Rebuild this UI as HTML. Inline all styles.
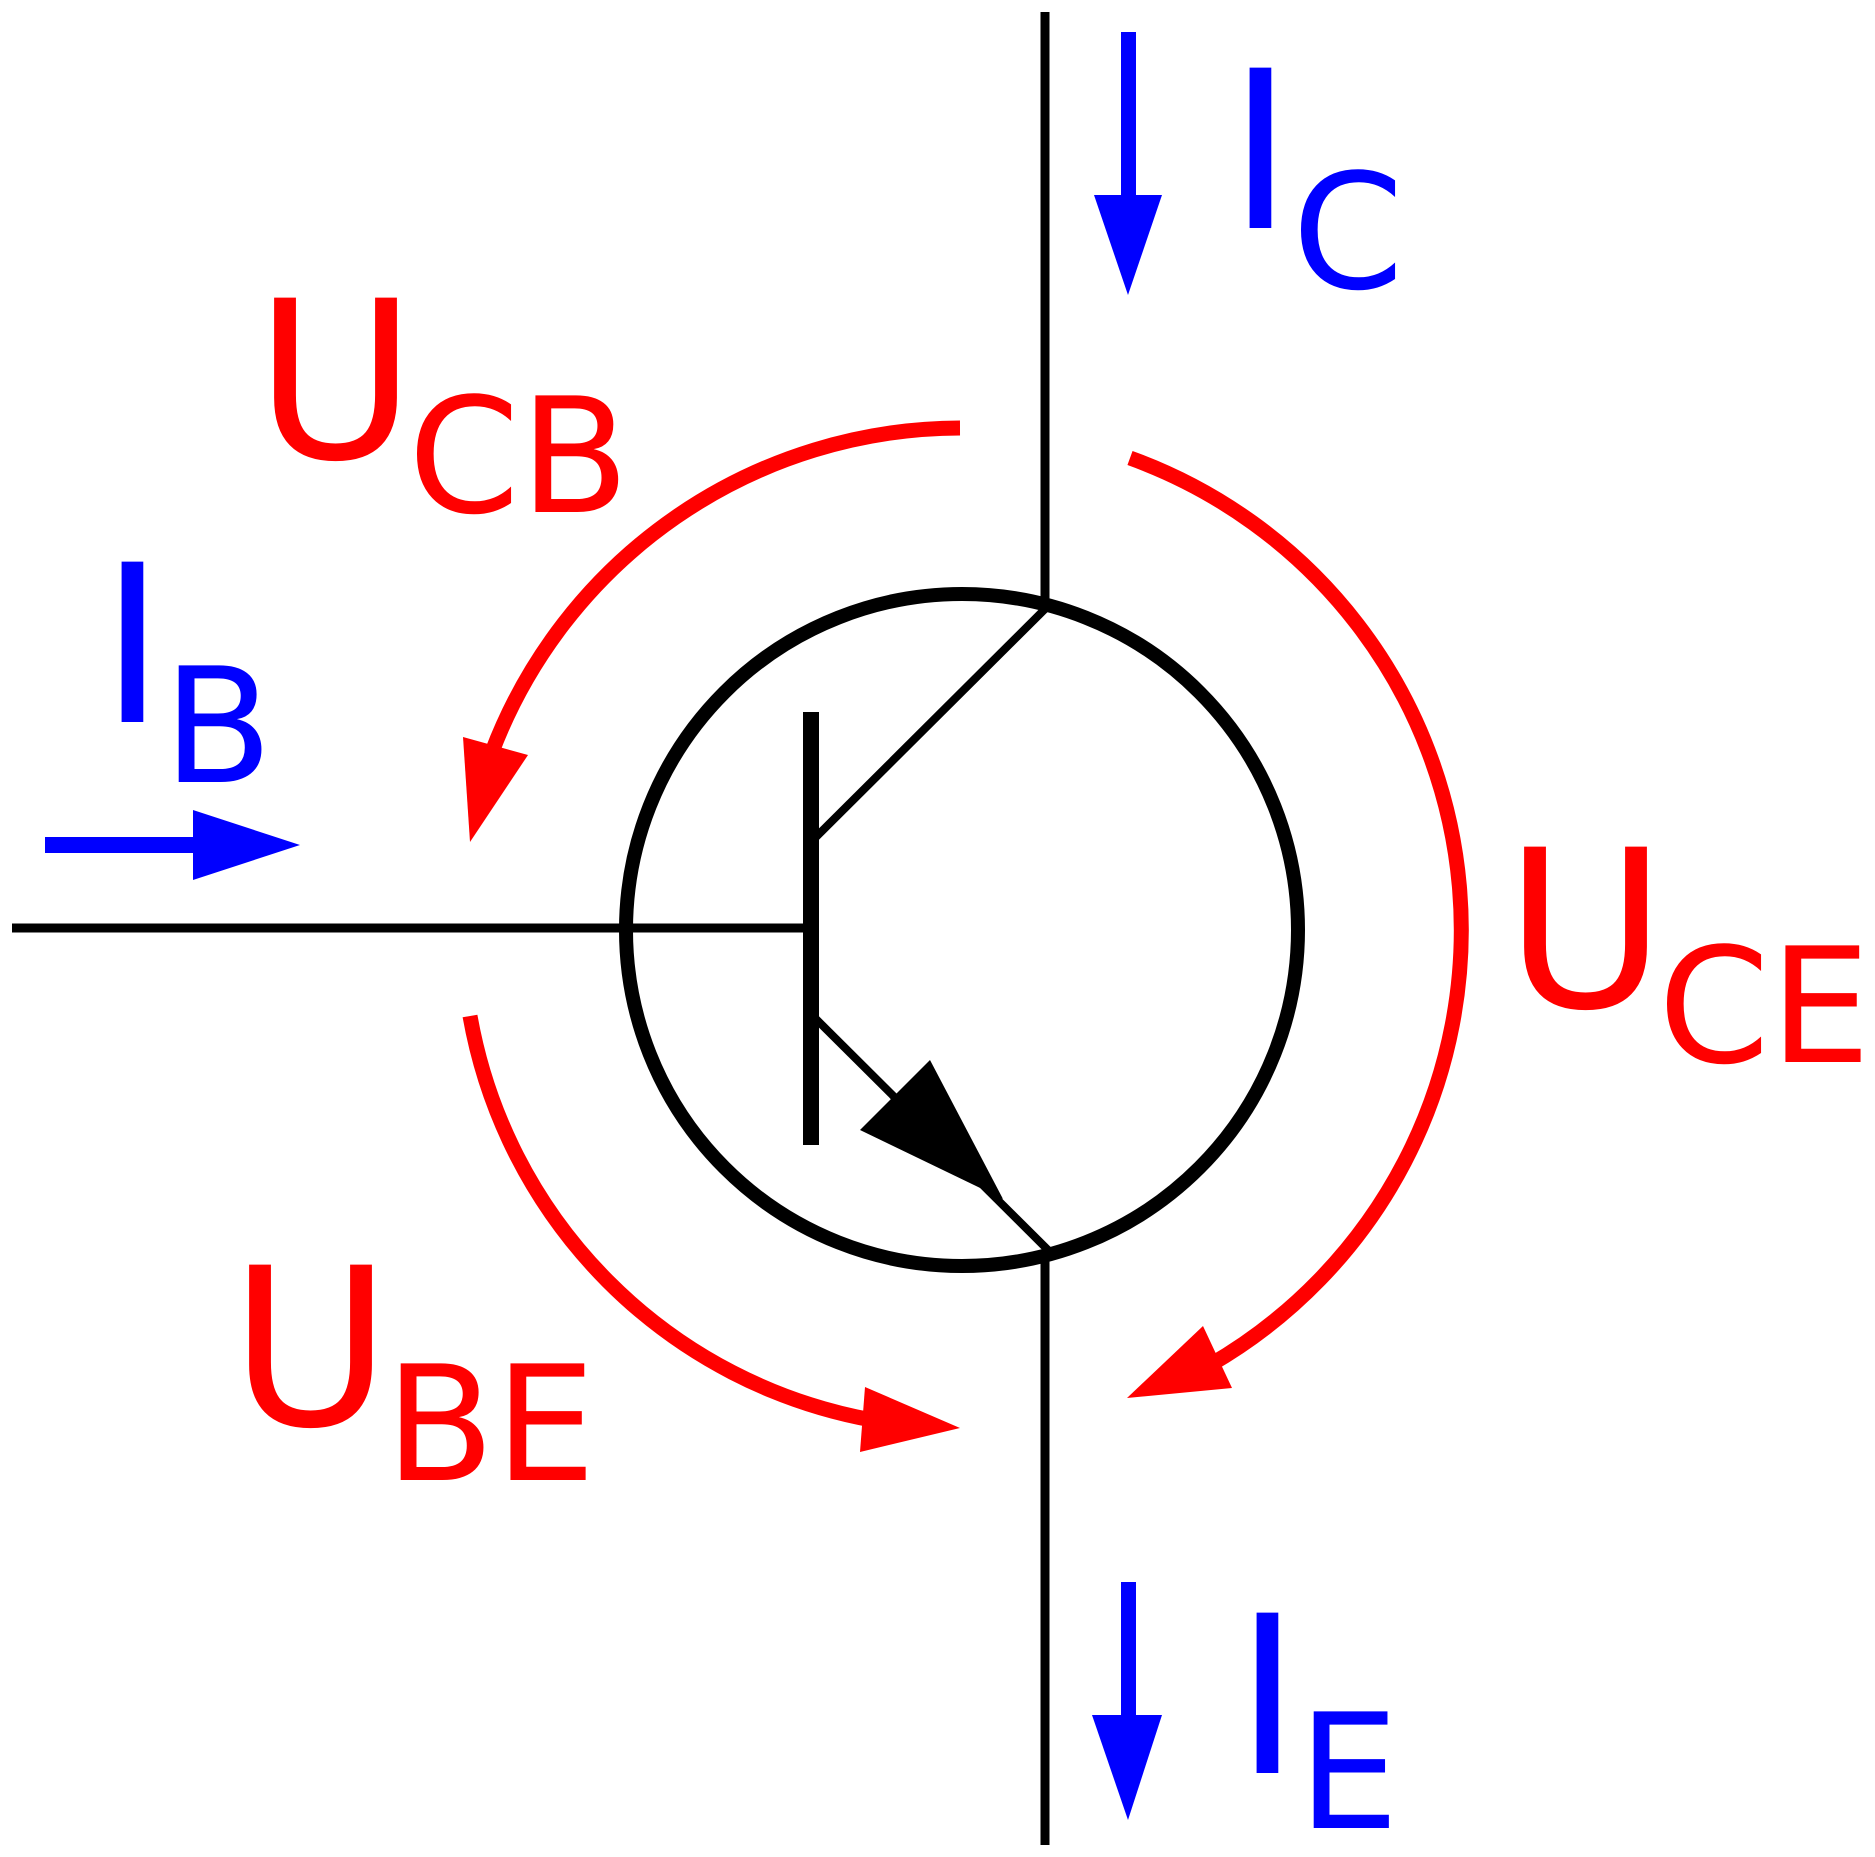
<!DOCTYPE html>
<html><head><meta charset="utf-8"><style>html,body{margin:0;padding:0;background:#fff}svg{display:block}</style></head><body>
<svg width="1875" height="1857" viewBox="0 0 1875 1857" xmlns="http://www.w3.org/2000/svg" font-family="DejaVu Sans, Liberation Sans, sans-serif">
<rect width="1875" height="1857" fill="#fff"/>
<!-- leads -->
<line x1="1045" y1="12" x2="1045" y2="606" stroke="#000" stroke-width="9"/>
<line x1="1045" y1="1252" x2="1045" y2="1845" stroke="#000" stroke-width="9"/>
<line x1="12" y1="928" x2="812" y2="928" stroke="#000" stroke-width="9"/>
<circle cx="962" cy="930" r="336" fill="none" stroke="#000" stroke-width="14"/>
<line x1="811" y1="712" x2="811" y2="1145" stroke="#000" stroke-width="16"/>
<line x1="811" y1="842" x2="1048" y2="606" stroke="#000" stroke-width="8"/>
<line x1="811" y1="1014" x2="1048" y2="1250" stroke="#000" stroke-width="8"/>
<polygon points="930,1060 860,1130 1003,1199" fill="#000"/>
<!-- currents -->
<g fill="#00f" stroke="none">
<rect x="1121" y="32" width="15" height="168"/>
<polygon points="1094,195 1162,195 1128,295"/>
<rect x="1121" y="1582" width="15" height="140"/>
<polygon points="1092,1715 1162,1715 1128,1820"/>
<rect x="45" y="837" width="155" height="16"/>
<polygon points="193,810 300,845 193,880"/>
</g>
<!-- voltages -->
<g fill="none" stroke="#f00" stroke-width="15">
<path d="M960 428 A502 502 0 0 0 492 752"/>
<path d="M1130 458 A502 502 0 0 1 1210 1365"/>
<path d="M470 1016 A499 499 0 0 0 872 1420"/>
</g>
<g fill="#f00">
<polygon points="463,737 528,755 470,842"/>
<polygon points="1127,1398 1203,1326 1232,1388"/>
<polygon points="865,1387 960,1428 860,1452"/>
</g>
<g font-size="220" fill="#f00">
<text x="255" y="458">U</text><text x="408" y="512" font-size="160">CB</text>
<text x="1505" y="1007">U</text><text x="1658" y="1062" font-size="160">CE</text>
<text x="230" y="1425">U</text><text x="385" y="1480" font-size="160">BE</text>
</g>
<g font-size="220" fill="#00f">
<text x="100" y="722">I</text><text x="163" y="782" font-size="160">B</text>
<text x="1228" y="228">I</text><text x="1292" y="288" font-size="160">C</text>
<text x="1235" y="1773">I</text><text x="1298" y="1828" font-size="160">E</text>
</g>
</svg>
</body></html>
